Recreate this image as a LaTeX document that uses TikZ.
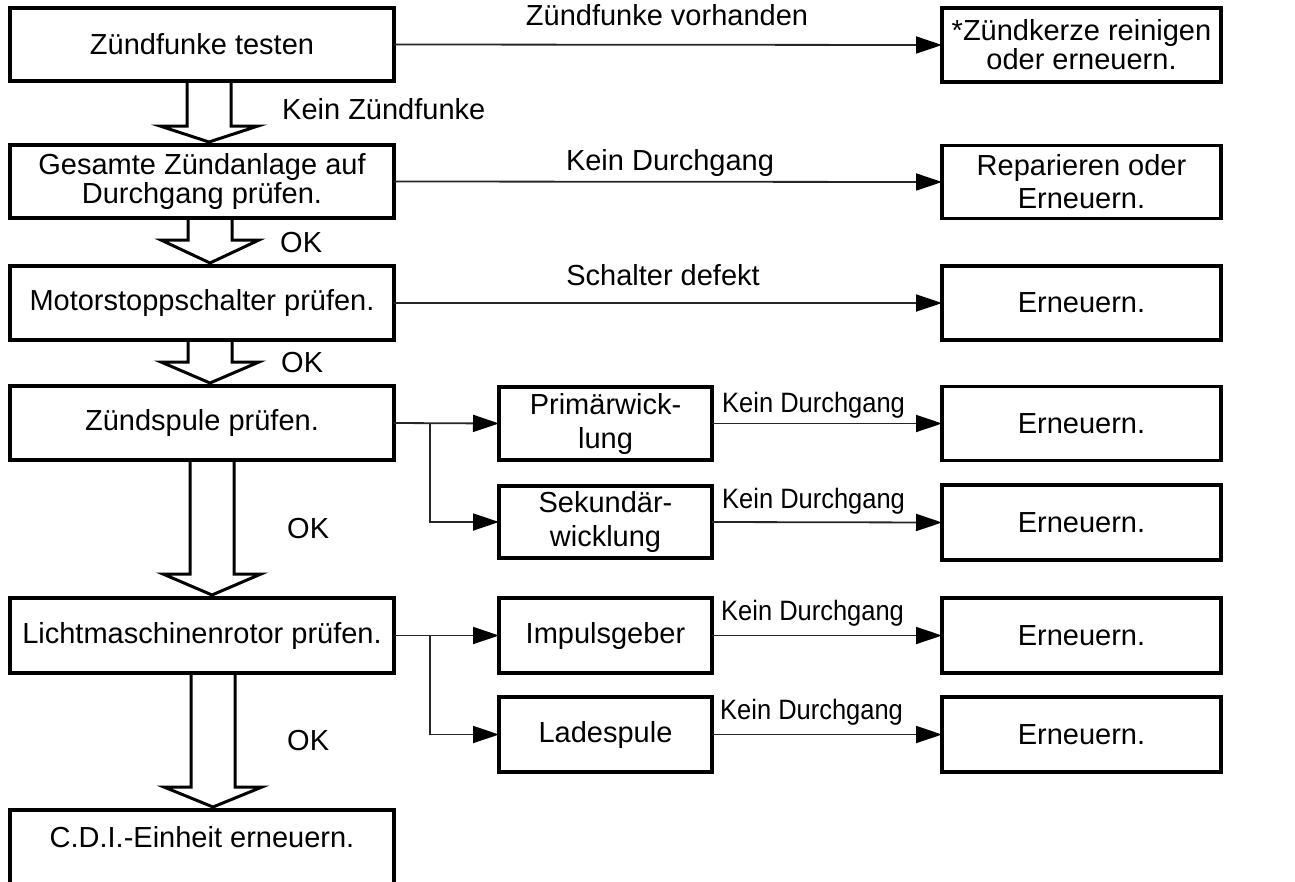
\documentclass[tikz,border=0pt]{standalone}
\usepackage{fontspec}
\setmainfont{Liberation Sans}
\newfontfamily\condfont[FakeStretch=0.91]{Liberation Sans}
\usetikzlibrary{arrows.meta,calc}
\newcommand\myfs{\fontsize{29}{29}\selectfont}
\newcommand\mysmallfs{\condfont\fontsize{28}{28}\selectfont}
% #1 top node, #2 bottom node, #3 head height, #4 x offset of arrow axis
\newcommand\harrow[4]{%
  \draw[hollow] ($(#1.south)+(#4-22,0)$) -- ($(#2.north)+(#4-22,-3-#3)$)
    -- ($(#2.north)+(#4-49,-3-#3)$) -- ($(#2.north)+(#4,-3)$)
    -- ($(#2.north)+(#4+49,-3-#3)$) -- ($(#2.north)+(#4+22,-3-#3)$)
    -- ($(#1.south)+(#4+22,0)$);}
\begin{document}
\begin{tikzpicture}[x=1pt,y=-1pt,
  box/.style={draw=black, line width=3.5pt, inner sep=0pt, outer sep=0pt,
    minimum width=384pt, minimum height=73pt, align=center, font=\myfs},
  rbox/.style={box, minimum width=279pt, minimum height=74pt},
  mbox/.style={box, minimum width=213pt, minimum height=73pt},
  conn/.style={draw=black!85, line width=1.8pt,
    -{Triangle[length=26pt,width=17pt,color=black]}},
  hollow/.style={draw=black, line width=3pt, line join=miter},
  lbl/.style={font=\myfs, inner sep=0pt},
  slbl/.style={font=\mysmallfs, inner sep=0pt}]
\useasboundingbox (0,0) rectangle (1295,881);
\clip (0,0) rectangle (1295,881);

% left column
\node[box] (b1) at (202,44.5) {Zündfunke testen};
\node[box] (b2) at (202,181.5) {Gesamte Zündanlage auf\\Durchgang prüfen.};
\node[box, minimum height=74pt] (b3) at (202,303) {Motorstoppschalter prüfen.};
\node[box, minimum height=74pt] (b4) at (202,423) {Zündspule prüfen.};
\node[box, minimum height=75pt] (b5) at (202,635.5) {Lichtmaschinenrotor prüfen.};
\node[box, anchor=north, minimum height=0pt, text height=21pt, text depth=40pt,
  inner ysep=16pt] (b6) at (202,810) {C.D.I.-Einheit erneuern.};

% right column
\node[rbox] (r1) at (1081.5,45) {*Zündkerze reinigen\\oder erneuern.};
\node[rbox, minimum height=73pt] (r2) at (1081.5,182) {Reparieren oder\\[4pt]Erneuern.};
\node[rbox] (r3) at (1081.5,303) {Erneuern.};
\node[rbox] (r4) at (1081.5,423.5) {Erneuern.};
\node[rbox, minimum height=75pt] (r5) at (1081.5,522.5) {Erneuern.};
\node[rbox, minimum height=75pt] (r6) at (1081.5,635.5) {Erneuern.};
\node[rbox, minimum height=75pt] (r7) at (1081.5,734.5) {Erneuern.};

% middle column
\node[mbox] (p1) at (605.5,423.5) {Primärwick-\\[5pt]lung};
\node[mbox, minimum height=72pt] (p2) at (605.5,522) {Sekundär-\\[5pt]wicklung};
\node[mbox, minimum height=75pt] (i1) at (605.5,635.5) {Impulsgeber};
\node[mbox, minimum height=75pt] (l1) at (605.5,734.5) {Ladespule};

% hollow arrows
\harrow{b1}{b2}{16}{7}
\harrow{b2}{b3}{23}{8}
\harrow{b3}{b4}{21}{8}
\harrow{b4}{b5}{21}{10}
\harrow{b5}{b6}{20}{11}

% labels at hollow arrows
\node[lbl, anchor=base west] (t1) at (282,119) {Kein Zündfunke};
\node[lbl, anchor=base west] (t2) at (280,252) {OK};
\node[lbl, anchor=base west] (t3) at (281,372) {OK};
\node[lbl, anchor=base west] (t4) at (287,538) {OK};
\node[lbl, anchor=base west] (t5) at (287,750) {OK};

% horizontal connectors
\draw[conn] (b1.east) -- (r1.west);
\draw[conn] (b2.east) -- (r2.west);
\draw[conn] (b3.east) -- (r3.west);
\node[lbl, anchor=base] (h1) at (667,25) {Zündfunke vorhanden};
\node[lbl, anchor=base] (h2) at (670,170) {Kein Durchgang};
\node[lbl, anchor=base] (h3) at (663,285) {Schalter defekt};

% branches
\coordinate (j1) at (430,423.5);
\coordinate (j2) at (430,635.5);
\draw[conn] (b4.east) -- (p1.west);
\draw[conn] (j1) |- (p2.west);
\draw[conn] (b5.east) -- (i1.west);
\draw[conn] (j2) |- (l1.west);

\draw[conn] (p1.east) -- (r4.west);
\draw[conn] (p2.east) -- (r5.west);
\draw[conn] (i1.east) -- (r6.west);
\draw[conn] (l1.east) -- (r7.west);
\node[slbl, anchor=base west] (k1) at (722,412) {Kein Durchgang};
\node[slbl, anchor=base west] (k2) at (722,508) {Kein Durchgang};
\node[slbl, anchor=base west] (k3) at (721,620) {Kein Durchgang};
\node[slbl, anchor=base west] (k4) at (720,719) {Kein Durchgang};
\end{tikzpicture}
\end{document}
